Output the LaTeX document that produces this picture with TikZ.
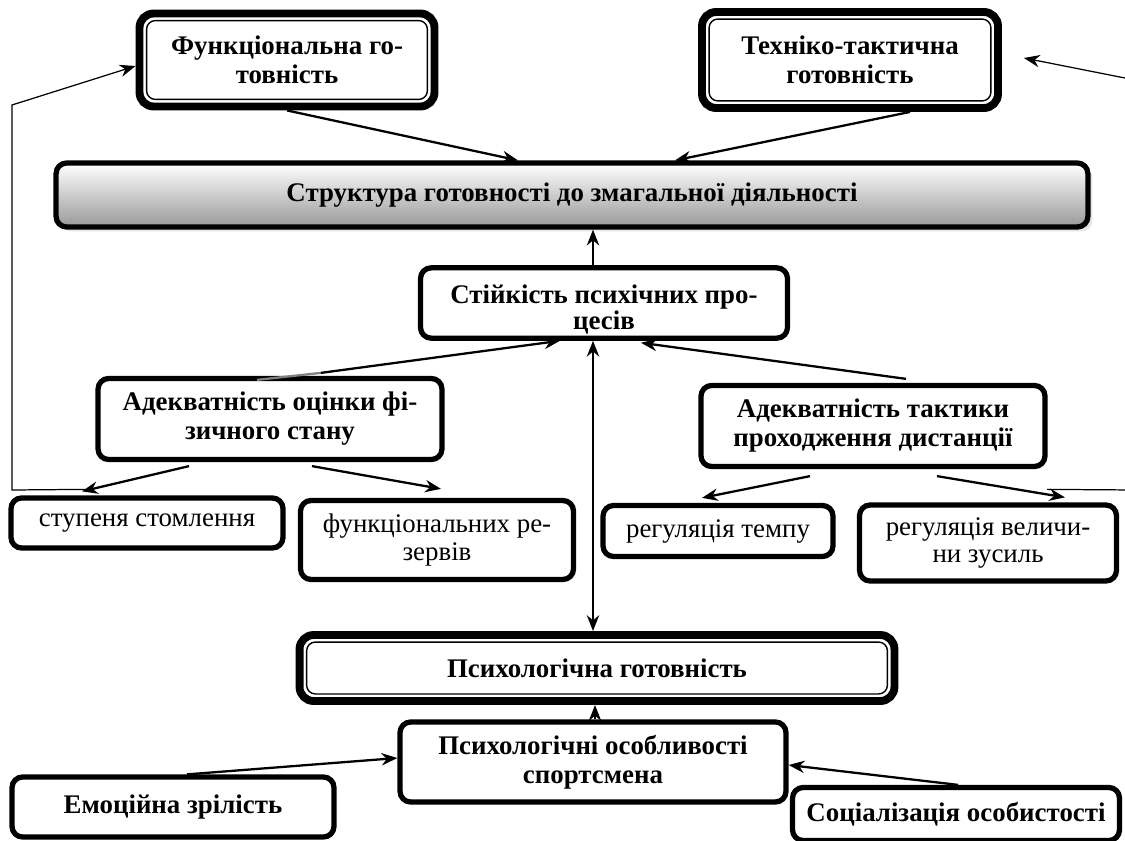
\documentclass[tikz,border=0pt]{standalone}
\usepackage{fontspec}
\setmainfont{Liberation Serif}
\usetikzlibrary{arrows.meta,shadows}

\tikzset{
  box/.style = {draw, rounded corners=6pt, line width=3pt, align=center, inner sep=2pt, font=\fontsize{15.3}{15.5}\selectfont},
  boldbox/.style = {box, font=\fontsize{15.3}{16.5}\selectfont\bfseries},
  dblbox/.style = {boldbox, line width=4.5pt, rounded corners=8pt},
}

\begin{document}
\begin{tikzpicture} [->, >={Stealth[length=9pt, width=7pt]}, line width=1.3pt, x=0.02cm, y=-0.02cm]
        \useasboundingbox (0,0) rectangle (1125,841);

        \node [dblbox, minimum width=5.9cm, minimum height=1.86cm] (fg) at (287,60) {Функціональна го-\\товність};
        \node [dblbox, minimum width=5.92cm, minimum height=1.92cm] (ttg) at (850,60) {Техніко-тактична\\готовність};
        \node [boldbox, minimum width=20.64cm, minimum height=1.28cm, top color=white, bottom color=black!40,
               drop shadow={shadow xshift=2.5pt, shadow yshift=-2.5pt, fill=black!20}] (struct) at (572,195)
               {Структура готовності до змагальної діяльності};

        \node [boldbox, minimum width=7.34cm, minimum height=1.36cm, font={\fontsize{15.3}{14.5}\selectfont\bfseries\lineskiplimit=-20pt\relax},
               text height=33pt, text depth=3pt] (stp) at (604,303) {Стійкість психічних про-\\цесів};
        \node [boldbox, minimum width=6.88cm, minimum height=1.62cm] (aof) at (270,419) {Адекватність оцінки фі-\\зичного стану};
        \node [boldbox, minimum width=6.88cm, minimum height=1.62cm] (att) at (873,426) {Адекватність тактики\\проходження дистанції};

        \node [box, minimum width=5.44cm, minimum height=1.0cm] (sst) at (147,523) {ступеня стомлення};
        \node [box, minimum width=5.46cm, minimum height=1.58cm] (frz) at (437,540) {функціональних ре-\\зервів};
        \node [box, minimum width=4.6cm, minimum height=1.02cm] (rtm) at (718,531) {регуляція темпу};
        \node [box, minimum width=5.14cm, minimum height=1.52cm] (rvz) at (988,543) {регуляція величи-\\ни зусиль};

        \node [dblbox, minimum width=11.9cm, minimum height=1.32cm] (psg) at (597,668) {Психологічна готовність};
        \node [boldbox, minimum width=7.72cm, minimum height=1.6cm] (pso) at (593,762) {Психологічні особливості\\спортсмена};
        \node [boldbox, minimum width=6.44cm, minimum height=1.2cm] (emz) at (173,807) {Емоційна зрілість};
        \node [boldbox, minimum width=6.54cm, minimum height=1.06cm] (soc) at (956,814) {Соціалізація особистості};

        % inner frame of the double boxes
        \foreach \n in {fg, ttg, psg}
            \draw [-, line width=0.8pt, rounded corners=5pt] ([shift={(11,11)}]\n.north west) rectangle ([shift={(-11,-11)}]\n.south east);

        \path (fg.south) edge ([shift={(-54,0)}]struct.north);
        \path ([shift={(60,0)}]ttg.south) edge ([shift={(103,0)}]struct.north);
        \path ([shift={(-11,0)}]stp.north) edge ([shift={(21,0)}]struct.south);

        \draw [-, gray] ([shift={(-13,4)}]aof.north) -- ([shift={(51,-3)}]aof.north);
        \path ([shift={(51,-3)}]aof.north) edge ([shift={(-44,0)}]stp.south);
        \path ([shift={(33,-4)}]att.north) edge ([shift={(37,2)}]stp.south);
        \draw [<->] ([shift={(-4,0)}]psg.north) -- ([shift={(-11,0)}]stp.south);

        \path ([shift={(-81,4)}]aof.south) edge ([shift={(-65,-4)}]sst.north);
        \path ([shift={(42,4)}]aof.south) edge ([shift={(4,-9)}]frz.north);
        \path ([shift={(-63,7)}]att.south) edge ([shift={(-16,-5)}]rtm.north);
        \path ([shift={(64,7)}]att.south) edge ([shift={(77,-5)}]rvz.north);

        % feedback lines
        \draw [line width=0.7pt] ([shift={(-61,-6)}]sst.north) -- (12,490) -- (12,105) -- ([shift={(0,6)}]fg.west);
        \draw [line width=0.7pt] ([shift={(59,-13)}]rvz.north) -- (1135,490) -- (1135,80) -- ([shift={(22,-2)}]ttg.east);

        \path ([shift={(2,0)}]pso.north) edge ([shift={(-2,0)}]psg.south);
        \path ([shift={(14,0)}]emz.north) edge ([shift={(0,-4)}]pso.west);
        \path ([shift={(2,0)}]soc.north) edge ([shift={(0,3)}]pso.east);

    \end{tikzpicture}
\end{document}
